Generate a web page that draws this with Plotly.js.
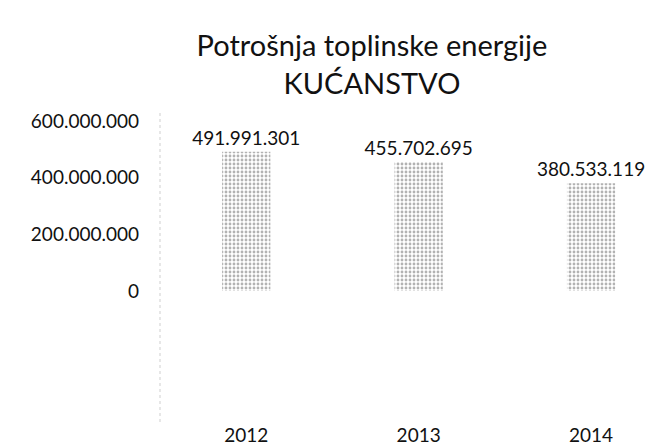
<!DOCTYPE html>
<html>
<head>
<meta charset="utf-8">
<script src="https://cdn.plot.ly/plotly-3.0.1.min.js"></script>
<style>html,body{margin:0;padding:0;background:#fff;}#chart{width:648px;height:448px;}</style>
</head>
<body>
<div id="chart"></div>
<script>
const years = ['2012', '2013', '2014'];
const consumption = [491991301, 455702695, 380533119];
const yTickValues = [0, 200000000, 400000000, 600000000];
const chartTitle = 'Potrošnja toplinske energije<br>KUĆANSTVO';

const fontFamily = 'Lato, "Open Sans", "Noto Sans", sans-serif';

const trace = {
  type: 'bar',
  x: years,
  y: consumption,
  width: 0.28,
  marker: {
    color: '#ffffff',
    line: {width: 0},
    pattern: {shape: '.', size: 4, solidity: 0.4, fgcolor: '#666666', bgcolor: '#ffffff', fillmode: 'overlay'}
  },
  texttemplate: '%{y:,.0f}',
  textposition: 'outside',
  constraintext: 'none',
  cliponaxis: false,
  textfont: {family: fontFamily, size: 19, color: '#111'},
  hoverinfo: 'skip'
};

const layout = {
  width: 648,
  height: 448,
  margin: {l: 160, r: 0, t: 110, b: 26},
  paper_bgcolor: '#fff',
  plot_bgcolor: '#fff',
  separators: ',.',
  showlegend: false,
  title: {
    text: chartTitle,
    font: {family: fontFamily, size: 29, color: '#111'},
    x: 0.574, xref: 'container', xanchor: 'center',
    y: 0.875, yref: 'container', yanchor: 'top'
  },
  xaxis: {
    type: 'category',
    range: [-0.5, 2.33],
    showgrid: false, zeroline: false, showline: false,
    ticks: '',
    tickfont: {family: fontFamily, size: 19, color: '#111'}
  },
  yaxis: {
    range: [-462000000, 639000000],
    tickvals: yTickValues,
    tickformat: ',.0f',
    showgrid: false, zeroline: false, showline: false,
    ticks: '',
    ticklabelstandoff: 20,
    tickfont: {family: fontFamily, size: 19, color: '#111'}
  },
  shapes: [{
    type: 'line', xref: 'paper', yref: 'paper',
    x0: 0, x1: 0, y0: 0, y1: 1,
    line: {color: '#cfcfcf', width: 1, dash: 'dot'}
  }]
};

Plotly.newPlot('chart', [trace], layout, {displayModeBar: false, staticPlot: true});
</script>
</body>
</html>
